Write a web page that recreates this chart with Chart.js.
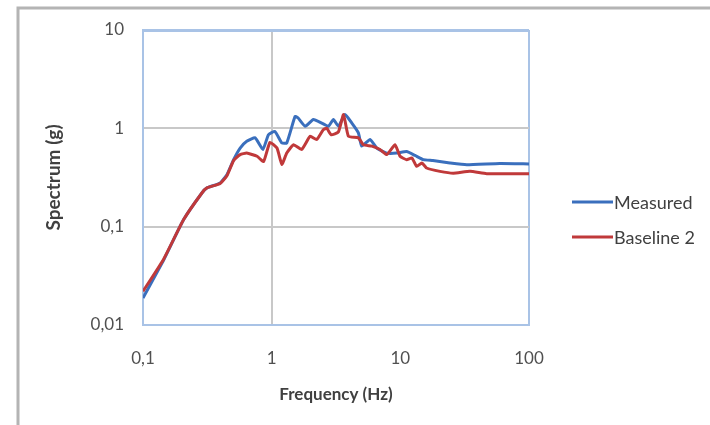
<!DOCTYPE html>
<html>
<head>
<meta charset="utf-8">
<script src="https://cdn.jsdelivr.net/npm/chart.js@4"></script>
<style>
  html, body { margin: 0; padding: 0; background: #fff; }
  #wrap { width: 710px; height: 425px; position: relative; }
</style>
</head>
<body>
<div id="wrap"><canvas id="chart"></canvas></div>
<script>
// data
const freqMeasured = [0.1, 0.145, 0.207, 0.287, 0.314, 0.398, 0.449, 0.506, 0.569, 0.64, 0.745, 0.855, 0.944, 1.06, 1.2, 1.31, 1.52, 1.6, 1.82, 2.11, 2.45, 2.76, 3.02, 3.3, 3.72, 4.2, 4.72, 5.01, 5.82, 6.56, 7.84, 9.38, 11.2, 13.0, 15.1, 17.9, 24.3, 32.8, 59.4, 100];
const measured = [0.0188, 0.046, 0.118, 0.22, 0.248, 0.278, 0.338, 0.48, 0.63, 0.74, 0.80, 0.61, 0.86, 0.93, 0.71, 0.71, 1.32, 1.28, 1.05, 1.23, 1.13, 1.05, 1.23, 1.05, 1.38, 1.13, 0.90, 0.66, 0.77, 0.63, 0.56, 0.56, 0.58, 0.53, 0.48, 0.47, 0.445, 0.427, 0.44, 0.435];

const freqBaseline = [0.1, 0.145, 0.207, 0.287, 0.314, 0.398, 0.449, 0.506, 0.569, 0.64, 0.77, 0.865, 0.97, 1.1, 1.2, 1.31, 1.48, 1.71, 1.99, 2.24, 2.52, 2.68, 2.9, 3.3, 3.62, 3.95, 4.72, 5.16, 6.0, 6.95, 7.84, 9.1, 9.95, 11.2, 12.3, 13.4, 14.7, 16.0, 20.3, 25.8, 34.8, 46.9, 100];
const baseline = [0.022, 0.047, 0.118, 0.22, 0.248, 0.275, 0.33, 0.47, 0.54, 0.56, 0.52, 0.46, 0.72, 0.63, 0.43, 0.56, 0.68, 0.61, 0.83, 0.77, 0.97, 1.0, 0.86, 0.92, 1.38, 0.83, 0.80, 0.68, 0.66, 0.61, 0.54, 0.68, 0.52, 0.48, 0.50, 0.41, 0.445, 0.395, 0.365, 0.35, 0.365, 0.346, 0.346];

const xTicks = [0.1, 1, 10, 100];
const xTickLabels = ['0,1', '1', '10', '100'];
const yTicks = [0.01, 0.1, 1, 10];
const yTickLabels = ['0,01', '0,1', '1', '10'];

const seriesNames = ['Measured', 'Baseline 2'];
const blue = '#3a6fbd';
const red = '#c0393a';
const frameBlue = '#a9c3e6';

function pts(xs, ys) {
  return xs.map((x, i) => ({ x: x, y: ys[i] }));
}

// grey outer frame + legend drawn by hand
const extras = {
  id: 'extras',
  beforeDraw(chart) {
    const c = chart.ctx;
    c.save();
    c.strokeStyle = '#b4b4b4';
    c.lineWidth = 3;
    c.beginPath();
    c.moveTo(18, 425);
    c.lineTo(18, 8);
    c.lineTo(710, 8);
    c.stroke();
    c.restore();
  },
  afterDraw(chart) {
    const c = chart.ctx;
    c.save();
    chart.data.datasets.forEach((ds, i) => {
      const y = 202 + i * 35;
      c.strokeStyle = ds.borderColor;
      c.lineWidth = 3;
      c.beginPath();
      c.moveTo(572, y);
      c.lineTo(613, y);
      c.stroke();
      c.fillStyle = '#404040';
      c.font = '18px Lato';
      c.textBaseline = 'middle';
      c.fillText(ds.label, 614, y + 1);
    });
    c.restore();
  }
};

const ctx = document.getElementById('chart');
new Chart(ctx, {
  type: 'line',
  data: {
    datasets: [
      {
        label: seriesNames[0],
        data: pts(freqMeasured, measured),
        borderColor: blue,
        borderWidth: 3,
        pointRadius: 0,
        tension: 0.15,
        fill: false,
        order: 1
      },
      {
        label: seriesNames[1],
        data: pts(freqBaseline, baseline),
        borderColor: red,
        borderWidth: 3,
        pointRadius: 0,
        tension: 0.15,
        fill: false,
        order: 0
      }
    ]
  },
  options: {
    responsive: true,
    maintainAspectRatio: false,
    animation: false,
    layout: {
      padding: { left: 0, right: 181, top: 30, bottom: 0 }
    },
    plugins: {
      legend: { display: false },
      tooltip: { enabled: false }
    },
    scales: {
      x: {
        type: 'logarithmic',
        min: 0.1,
        max: 100,
        afterBuildTicks: (s) => { s.ticks = xTicks.map(v => ({ value: v })); },
        afterFit: (s) => { s.height = 100; },
        ticks: {
          padding: 23,
          color: '#505050',
          font: { family: 'Lato', size: 17 },
          maxRotation: 0,
          callback: (v) => xTickLabels[xTicks.indexOf(v)]
        },
        grid: {
          drawTicks: false,
          color: (c) => {
            const v = c.tick && c.tick.value;
            if (v === 1) return '#c8c8c8';
            if (v === 100 || v === 0.1) return frameBlue;
            return 'rgba(0,0,0,0)';
          },
          lineWidth: 2
        },
        border: { display: true, color: frameBlue, width: 2 },
        title: {
          display: true,
          text: 'Frequency (Hz)',
          color: '#404040',
          font: { family: 'Lato', size: 17, weight: 'bold' },
          padding: { top: 0, bottom: 20 }
        }
      },
      y: {
        type: 'logarithmic',
        min: 0.01,
        max: 10,
        afterBuildTicks: (s) => { s.ticks = yTicks.map(v => ({ value: v })); },
        afterFit: (s) => { s.width = 143; },
        ticks: {
          padding: 19,
          color: '#505050',
          font: { family: 'Lato', size: 17 },
          callback: (v) => yTickLabels[yTicks.indexOf(v)]
        },
        grid: {
          drawTicks: false,
          color: (c) => {
            const v = c.tick && c.tick.value;
            if (v === 10 || v === 0.01) return frameBlue;
            return '#c8c8c8';
          },
          lineWidth: (c) => (c.tick && c.tick.value === 10 ? 3 : 2)
        },
        border: { display: true, color: frameBlue, width: 2 },
        title: {
          display: true,
          text: 'Spectrum (g)',
          color: '#404040',
          font: { family: 'Lato', size: 19, weight: 'bold' },
          padding: { top: 42, bottom: 0 }
        }
      }
    }
  },
  plugins: [extras]
});
</script>
</body>
</html>
